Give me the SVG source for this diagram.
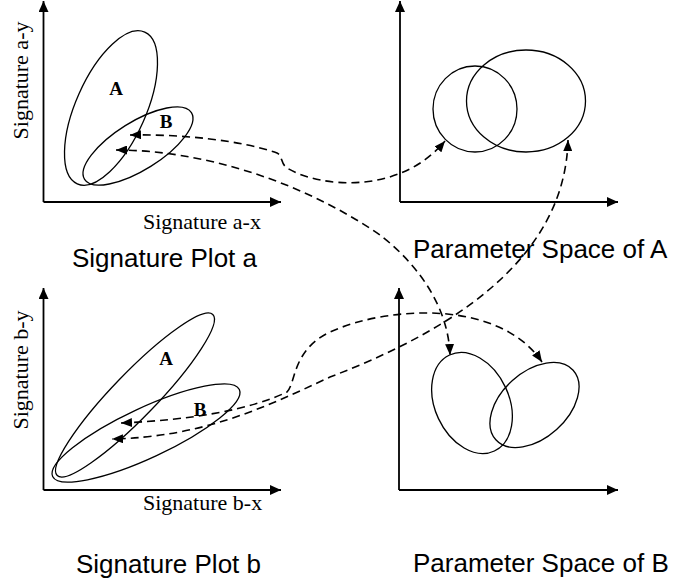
<svg xmlns="http://www.w3.org/2000/svg" width="673" height="583" viewBox="0 0 673 583">
<style>
.axis{fill:none;stroke:#000;stroke-width:1.8;marker-end:url(#ax)}
.ell{fill:none;stroke:#000;stroke-width:1.3}
.dash{fill:none;stroke:#000;stroke-width:1.6;stroke-dasharray:8 5;marker-start:url(#arr);marker-end:url(#arr)}
.ser{font-family:"Liberation Serif","Times New Roman",serif;font-size:22px;fill:#000}
.lbl{font-family:"Liberation Serif","Times New Roman",serif;font-size:19px;font-weight:bold;fill:#000;text-anchor:middle}
.cap{font-family:"Liberation Sans",Arial,sans-serif;font-size:26px;fill:#000}
</style>
<defs>
<marker id="ax" markerUnits="userSpaceOnUse" markerWidth="11" markerHeight="10" refX="11" refY="5" orient="auto"><path d="M0,0 L11,5 L0,10 z" fill="#000"/></marker>
<marker id="arr" markerUnits="userSpaceOnUse" markerWidth="11" markerHeight="9" refX="11" refY="4.5" orient="auto-start-reverse"><path d="M0,0 L11,4.5 L0,9 z" fill="#000"/></marker>
</defs>
<rect width="673" height="583" fill="#fff"/>

<g id="plot-a">
<path class="axis" d="M43.5,202 V1"/>
<path class="axis" d="M43.5,202 H281"/>
<ellipse class="ell" cx="111" cy="108" rx="83" ry="35" transform="rotate(-66 111 108)"/>
<ellipse class="ell" cx="138" cy="146" rx="63" ry="24" transform="rotate(-32 138 146)"/>
<text class="lbl" x="116" y="95">A</text>
<text class="lbl" x="166" y="128">B</text>
<text class="ser" x="143" y="229">Signature a-x</text>
<text class="ser" text-anchor="middle" transform="translate(28 80.5) rotate(-90)">Signature a-y</text>
<text class="cap" x="72" y="267">Signature Plot a</text>
</g>

<g id="param-a">
<path class="axis" d="M400,202 V1"/>
<path class="axis" d="M400,202 H618"/>
<ellipse class="ell" cx="475" cy="109" rx="42" ry="43"/>
<ellipse class="ell" cx="526" cy="101" rx="59.5" ry="51"/>
<text class="cap" x="413" y="258">Parameter Space of A</text>
</g>

<g id="plot-b">
<path class="axis" d="M43.5,490 V288"/>
<path class="axis" d="M43.5,490 H281"/>
<ellipse class="ell" cx="135" cy="395" rx="112" ry="22" transform="rotate(-46 135 395)"/>
<ellipse class="ell" cx="146" cy="433" rx="103" ry="25" transform="rotate(-25 146 433)"/>
<text class="lbl" x="166" y="365">A</text>
<text class="lbl" x="200" y="416">B</text>
<text class="ser" x="143" y="510">Signature b-x</text>
<text class="ser" text-anchor="middle" transform="translate(28 370) rotate(-90)">Signature b-y</text>
<text class="cap" x="76" y="573">Signature Plot b</text>
</g>

<g id="param-b">
<path class="axis" d="M399,490 V288"/>
<path class="axis" d="M399,490 H618"/>
<ellipse class="ell" cx="472" cy="403" rx="37" ry="53" transform="rotate(-25 472 403)"/>
<ellipse class="ell" cx="534.5" cy="405" rx="52" ry="33" transform="rotate(-42 534.5 405)"/>
<text class="cap" x="413" y="572">Parameter Space of B</text>
</g>

<g id="connectors">
<path class="dash" d="M130,135 C180,134 240,140 277,153 C283,156 280,163 287,168 C320,188 400,195 445,141"/>
<path class="dash" d="M116,150 C200,150 300,180 380,235 C410,258 448,300 450,355"/>
<path class="dash" d="M568,140 C565,265 440,335 330,377 C260,410 200,437 112,439"/>
<path class="dash" d="M121,423 C190,420 250,410 287,392 C296,383 292,350 330,332 C390,305 500,300 542,362"/>
</g>
</svg>
